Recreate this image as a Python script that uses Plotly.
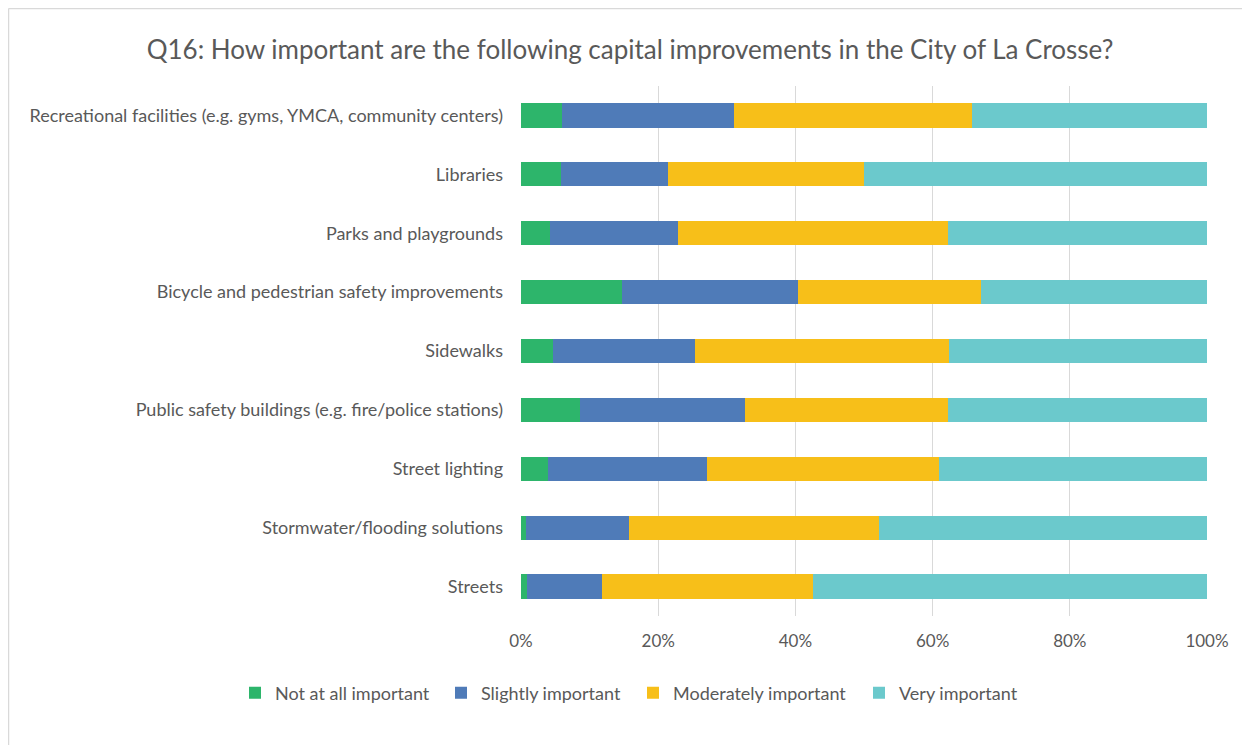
import plotly.graph_objects as go

categories = [
    "Recreational facilities (e.g. gyms, YMCA, community centers)",
    "Libraries",
    "Parks and playgrounds",
    "Bicycle and pedestrian safety improvements",
    "Sidewalks",
    "Public safety buildings (e.g. fire/police stations)",
    "Street lighting",
    "Stormwater/flooding solutions",
    "Streets",
]
not_at_all = [6.0, 5.8, 4.2, 14.7, 4.6, 8.6, 4.0, 0.8, 0.9]
slightly = [25.0, 15.6, 18.7, 25.7, 20.7, 24.1, 23.1, 15.0, 10.9]
moderately = [34.8, 28.6, 39.4, 26.6, 37.1, 29.6, 33.9, 36.4, 30.8]
very = [34.2, 50.0, 37.7, 33.0, 37.6, 37.7, 39.0, 47.8, 57.4]

series = [
    ("Not at all important", not_at_all, "#2db56b"),
    ("Slightly important", slightly, "#4f7bb8"),
    ("Moderately important", moderately, "#f7bf19"),
    ("Very important", very, "#6bc9cc"),
]
# page x where each legend label text starts
legend_text_x = [275, 481, 673, 899]

OFF = 8  # page body margin
W, H = 1242, 737
L, R, T, B = 513, 43, 78, 129
pw = W - L - R
ph = H - T - B

font_family = "Lato, 'Open Sans', sans-serif"

fig = go.Figure()
legend_layouts = {}
for i, (name, vals, color) in enumerate(series):
    lg = "legend" if i == 0 else f"legend{i + 1}"
    fig.add_trace(go.Bar(
        y=categories, x=vals, name=name, orientation="h",
        marker=dict(color=color, line=dict(width=0)), width=0.41,
        legend=lg, showlegend=True,
    ))
    legend_layouts[lg] = dict(
        orientation="h", xref="container", yref="container",
        x=(legend_text_x[i] - OFF - 40) / W, xanchor="left",
        y=1 - (693 - OFF) / H, yanchor="middle",
        font=dict(size=18, color="#595959", family=font_family),
        itemwidth=30, bgcolor="rgba(0,0,0,0)", borderwidth=0,
        visible=True,
    )

fig.update_layout(
    width=W, height=H, barmode="stack", showlegend=True,
    margin=dict(l=L, r=R, t=T, b=B, autoexpand=False),
    paper_bgcolor="white", plot_bgcolor="white",
    font=dict(family=font_family, color="#595959", size=18),
    title=dict(
        text="Q16: How important are the following capital improvements in the City of La Crosse?",
        x=(630 - OFF) / W, xanchor="center", xref="container",
        y=1 - (50 - OFF) / H, yanchor="middle",
        font=dict(size=26, color="#595959", family=font_family),
    ),
    xaxis=dict(
        range=[0, 100], tickvals=[0, 20, 40, 60, 80, 100],
        ticktext=["0%", "20%", "40%", "60%", "80%", "100%"],
        showgrid=True, gridcolor="#d9d9d9", gridwidth=1,
        zeroline=False, showline=False, ticks="",
        tickfont=dict(size=17, color="#595959"),
        ticklabelstandoff=13,
    ),
    yaxis=dict(
        autorange="reversed", showgrid=False, ticks="",
        ticklabelstandoff=17,
        tickfont=dict(size=18, color="#595959"),
    ),
    **legend_layouts,
)

# outer chart frame: left and top edges
x_left = (0.5 - L) / pw
x_right = (W - 0.5 - L) / pw
y_top = (H - B - 0.5) / ph
y_bot = (H - B - H) / ph
fig.add_shape(type="line", xref="paper", yref="paper",
              x0=x_left, x1=x_left, y0=y_bot, y1=y_top,
              line=dict(color="#d9d9d9", width=1.5), layer="below")
fig.add_shape(type="line", xref="paper", yref="paper",
              x0=x_left, x1=x_right, y0=y_top, y1=y_top,
              line=dict(color="#d9d9d9", width=1.5), layer="below")
fig.add_shape(type="line", xref="paper", yref="paper",
              x0=x_right, x1=x_right, y0=y_bot, y1=y_top,
              line=dict(color="#ececec", width=1), layer="below")

fig.write_html("out.html")
